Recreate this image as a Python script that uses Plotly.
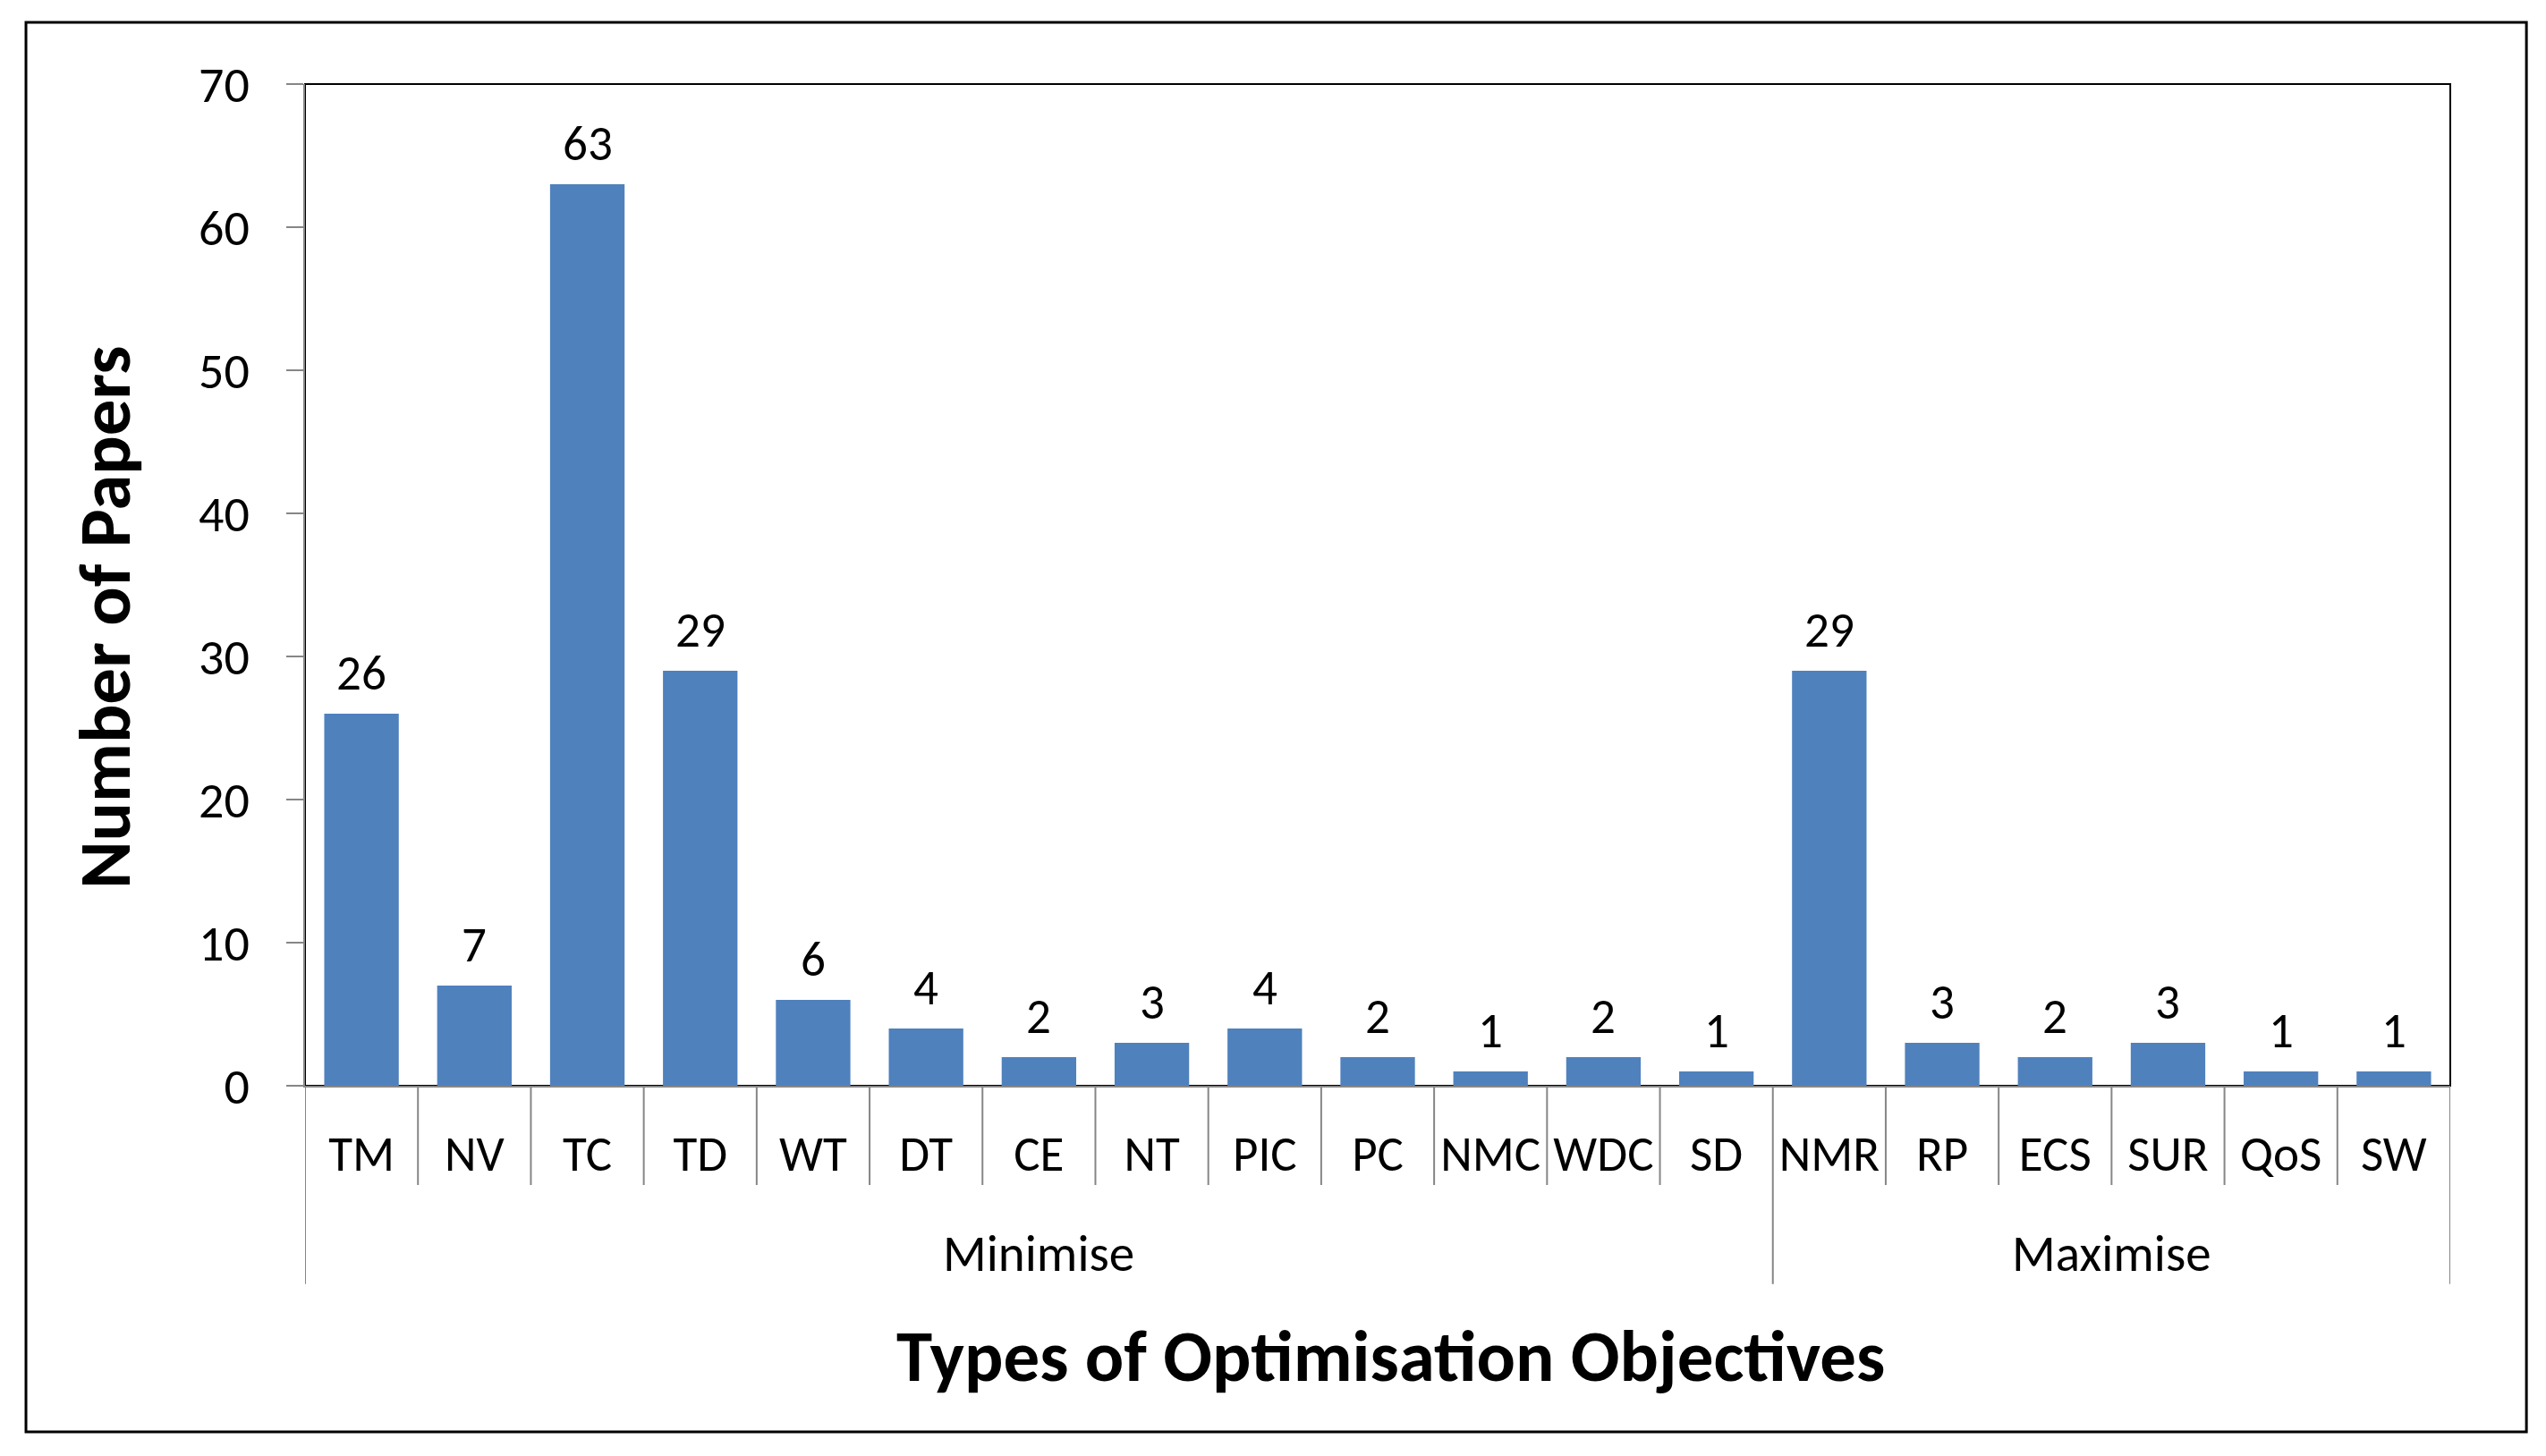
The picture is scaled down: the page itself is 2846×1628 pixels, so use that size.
import plotly.graph_objects as go

# objectives, split into the two groups shown under the axis
minimise_labels = ["TM", "NV", "TC", "TD", "WT", "DT", "CE", "NT", "PIC", "PC", "NMC", "WDC", "SD"]
minimise_counts = [26, 7, 63, 29, 6, 4, 2, 3, 4, 2, 1, 2, 1]
maximise_labels = ["NMR", "RP", "ECS", "SUR", "QoS", "SW"]
maximise_counts = [29, 3, 2, 3, 1, 1]
group_names = ["Minimise", "Maximise"]
y_ticks = [0, 10, 20, 30, 40, 50, 60, 70]

categories = minimise_labels + maximise_labels
counts = minimise_counts + maximise_counts

FONT = "Calibri, Carlito, Lato, sans-serif"
AXIS_GREY = "#868686"
BAR_BLUE = "#4F81BD"

fig = go.Figure()
fig.add_trace(go.Bar(
    x=categories, y=counts,
    marker=dict(color=BAR_BLUE, line=dict(width=0)),
    width=0.66,
    hoverinfo="x+y",
))

# value labels above bars
annotations = []
for cat, val in zip(categories, counts):
    annotations.append(dict(x=cat, y=val, text=str(val), showarrow=False,
                            xref="x", yref="y", yanchor="bottom", yshift=10,
                            font=dict(size=55, color="black", family=FONT)))

# group labels centred under their categories
groups = [(group_names[0], 0, len(minimise_labels) - 1),
          (group_names[1], len(minimise_labels), len(categories) - 1)]
for name, first, last in groups:
    annotations.append(dict(x=(first + last) / 2, y=-0.167, text=name, showarrow=False,
                            xref="x", yref="paper", yanchor="middle",
                            font=dict(size=57, color="black", family=FONT)))

annotations.append(dict(x=0.506, y=-0.2705, xref="paper", yref="paper",
                        text="<b>Types of Optimisation Objectives</b>", showarrow=False,
                        yanchor="middle", font=dict(size=81, color="black", family=FONT)))
annotations.append(dict(x=-0.093, y=0.468, xref="paper", yref="paper",
                        text="<b>Number of Papers</b>", showarrow=False, textangle=-90,
                        xanchor="center", yanchor="middle",
                        font=dict(size=81, color="black", family=FONT)))

# category dividers below the axis; longer ones separate the groups
group_edges = {-0.5, len(minimise_labels) - 0.5, len(categories) - 0.5}
shapes = [dict(type="rect", xref="paper", yref="paper", x0=0, x1=1, y0=0, y1=1,
               line=dict(color="black", width=2), layer="below"),
          dict(type="rect", xref="paper", yref="paper", x0=-0.1301, x1=1.0355,
               y0=-0.3455, y1=1.0616, line=dict(color="black", width=3), layer="below")]
for i in range(len(categories) + 1):
    edge = i - 0.5
    low = -0.198 if edge in group_edges else -0.0991
    shapes.append(dict(type="line", xref="x", yref="paper", x0=edge, x1=edge, y0=0, y1=low,
                       line=dict(color=AXIS_GREY, width=2)))

fig.update_layout(
    width=2846, height=1628,
    margin=dict(l=341, r=107, t=94, b=414),
    paper_bgcolor="white", plot_bgcolor="white",
    showlegend=False,
    font=dict(family=FONT, color="black", size=55),
    annotations=annotations,
    shapes=shapes,
    bargap=0.34,
)
fig.update_xaxes(type="category", range=[-0.5, len(categories) - 0.5],
                 showline=True, linecolor=AXIS_GREY, linewidth=2,
                 ticks="", showgrid=False, tickfont=dict(size=55, family=FONT),
                 ticklabelstandoff=27, zeroline=False)
fig.update_yaxes(range=[0, 70], tickvals=y_ticks, showline=True, linecolor=AXIS_GREY,
                 linewidth=2, ticks="outside", ticklen=19, tickwidth=2, tickcolor=AXIS_GREY,
                 showgrid=False, zeroline=False, tickfont=dict(size=56, family=FONT),
                 ticklabelstandoff=30)

fig.write_html("out.html", config={"displayModeBar": False},
               post_script="document.body.style.margin='0';")
